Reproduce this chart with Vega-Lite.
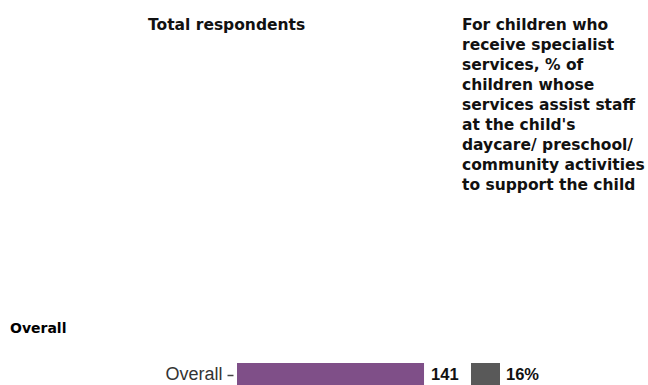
{
  "$schema": "https://vega.github.io/schema/vega-lite/v6.json",
  "padding": {"left": 10, "top": 18, "right": 0, "bottom": 0},
  "background": "white",
  "data": {"values": [{"section": "Overall", "group": "Overall", "n": 141, "pct": 0.16}]},
  "config": {"view": {"stroke": null}},
  "spacing": 122,
  "vconcat": [
    {
      "spacing": 4,
      "bounds": "flush",
      "hconcat": [
        {
          "width": 230, "height": 1,
          "mark": {"type": "point", "opacity": 0},
          "encoding": {},
          "title": {"text": "Total respondents", "anchor": "start", "frame": "group", "font": "DejaVu Sans", "fontSize": 15.5, "fontWeight": "bold", "color": "#111", "dx": -89, "dy": -160, "lineHeight": 20, "offset": 0}
        },
        {
          "width": 29, "height": 1,
          "mark": {"type": "point", "opacity": 0},
          "encoding": {},
          "title": {"text": ["For children who", "receive specialist", "services, % of", "children whose", "services assist staff", "at the child's", "daycare/ preschool/", "community activities", "to support the child"], "anchor": "start", "frame": "group", "font": "DejaVu Sans", "fontSize": 15.5, "fontWeight": "bold", "color": "#111", "dx": -9, "lineHeight": 20, "offset": 0}
        }
      ]
    },
    {
      "spacing": 4,
      "bounds": "flush",
      "title": {"text": "Overall", "anchor": "start", "frame": "group", "font": "DejaVu Sans", "fontSize": 14, "fontWeight": "bold", "color": "#000", "dx": -227, "offset": 27},
      "hconcat": [
        {
          "width": 230, "height": 24,
          "encoding": {
            "y": {"field": "group", "type": "nominal", "title": null, "scale": {"paddingInner": 0, "paddingOuter": 0},
              "axis": {"domain": false, "ticks": true, "tickSize": 6, "tickColor": "#444", "tickWidth": 1.5, "offset": 4, "labelPadding": 5, "labelFont": "Liberation Sans", "labelFontSize": 18, "labelColor": "#333"}},
            "x": {"field": "n", "type": "quantitative", "axis": null, "scale": {"domain": [0, 173.4]}}
          },
          "layer": [
            {"mark": {"type": "bar", "color": "#7f4f88"}},
            {"mark": {"type": "text", "align": "left", "baseline": "middle", "dx": 7, "font": "Liberation Sans", "fontSize": 16.5, "fontWeight": "bold", "color": "#111"},
             "encoding": {"text": {"field": "n", "type": "quantitative"}}}
          ]
        },
        {
          "width": 29, "height": 24,
          "layer": [
            {"mark": {"type": "rect", "color": "#595959"}, "encoding": {}},
            {"mark": {"type": "text", "align": "left", "baseline": "middle", "dx": 20.5, "font": "Liberation Sans", "fontSize": 16.5, "fontWeight": "bold", "color": "#111"},
             "encoding": {"text": {"field": "pct", "type": "quantitative", "format": ".0%"}}}
          ]
        }
      ]
    }
  ]
}
